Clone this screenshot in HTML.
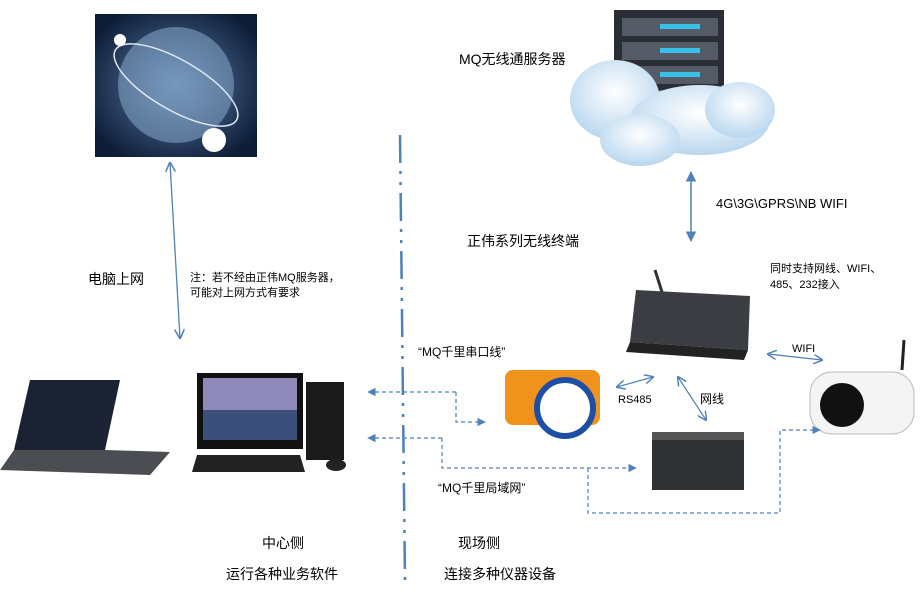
<!DOCTYPE html>
<html><head><meta charset="utf-8"><style>
body{margin:0;background:#fff;width:924px;height:588px;overflow:hidden;font-family:"Liberation Sans","Noto Sans CJK SC",sans-serif}
</style></head><body>
<svg width="924" height="588" viewBox="0 0 924 588" xmlns="http://www.w3.org/2000/svg" font-family="Liberation Sans, Noto Sans CJK SC, sans-serif">
<defs>
<marker id="a" viewBox="0 0 10 10" refX="9" refY="5" markerWidth="7" markerHeight="7" orient="auto-start-reverse"><path d="M0,0 L10,5 L0,10 z" fill="#4f81bd"/></marker>
<marker id="o" viewBox="0 0 10 10" refX="9" refY="5" markerWidth="8" markerHeight="8" orient="auto-start-reverse"><path d="M0,0 L10,5 L0,10" fill="none" stroke="#4f81bd" stroke-width="1.5"/></marker>
<radialGradient id="g1" cx="50%" cy="50%" r="60%"><stop offset="0" stop-color="#5d7fa8"/><stop offset="1" stop-color="#0d1d38"/></radialGradient>
<radialGradient id="cl" cx="50%" cy="40%" r="60%"><stop offset="0" stop-color="#fff"/><stop offset="1" stop-color="#b9d7ef"/></radialGradient>
</defs>
<!-- globe -->
<rect x="95" y="14" width="162" height="143" fill="url(#g1)"/>
<circle cx="176" cy="85" r="58" fill="#8fb2d6" opacity="0.5"/>
<ellipse cx="176" cy="85" rx="70" ry="25" fill="none" stroke="#dfe9f5" stroke-width="1.5" transform="rotate(30 176 85)"/>
<circle cx="214" cy="140" r="12" fill="#fff"/>
<circle cx="120" cy="40" r="6" fill="#fff"/>
<!-- server & cloud -->
<rect x="614" y="10" width="110" height="120" fill="#2a2d33"/>
<g fill="#555b66"><rect x="622" y="18" width="96" height="18"/><rect x="622" y="42" width="96" height="18"/><rect x="622" y="66" width="96" height="18"/><rect x="622" y="90" width="96" height="18"/></g>
<g fill="#39c0ea"><rect x="660" y="24" width="40" height="5"/><rect x="660" y="48" width="40" height="5"/><rect x="660" y="72" width="40" height="5"/><rect x="660" y="96" width="40" height="5"/></g>
<g fill="url(#cl)"><ellipse cx="615" cy="100" rx="45" ry="40"/><ellipse cx="700" cy="120" rx="70" ry="35"/><ellipse cx="740" cy="110" rx="35" ry="28"/><ellipse cx="640" cy="140" rx="40" ry="26"/></g>
<text x="459" y="64" font-size="14" fill="#000">MQ无线通服务器</text>
<line x1="691" y1="172" x2="691" y2="241" stroke="#4f81bd" stroke-width="1.5" marker-start="url(#a)" marker-end="url(#a)"/>
<text x="716" y="208" font-size="13">4G\3G\GPRS\NB  WIFI</text>
<text x="467" y="246" font-size="14">正伟系列无线终端</text>
<!-- DTU -->
<line x1="662" y1="292" x2="655" y2="270" stroke="#333" stroke-width="3"/>
<polygon points="636,290 750,296 748,350 630,342" fill="#3a3d42"/>
<polygon points="630,342 748,350 744,360 626,352" fill="#222"/>
<text x="770" y="272" font-size="11">同时支持网线、WIFI、</text>
<text x="770" y="288" font-size="11">485、232接入</text>
<line x1="768" y1="354" x2="822" y2="360" stroke="#4f81bd" stroke-width="1.2" marker-start="url(#o)" marker-end="url(#o)"/>
<text x="792" y="352" font-size="11">WIFI</text>
<!-- camera -->
<rect x="810" y="372" width="104" height="62" rx="22" fill="#f4f4f4" stroke="#bbb"/>
<circle cx="842" cy="405" r="22" fill="#111"/>
<line x1="902" y1="370" x2="904" y2="340" stroke="#222" stroke-width="3"/>
<!-- meter -->
<rect x="505" y="370" width="95" height="55" rx="8" fill="#f0931c"/>
<circle cx="565" cy="408" r="28" fill="#fff" stroke="#1e4fa4" stroke-width="6"/>
<text x="418" y="356" font-size="12">“MQ千里串口线”</text>
<line x1="617" y1="387" x2="653" y2="377" stroke="#4f81bd" stroke-width="1.2" marker-start="url(#o)" marker-end="url(#o)"/>
<text x="618" y="403" font-size="11">RS485</text>
<line x1="678" y1="377" x2="706" y2="420" stroke="#4f81bd" stroke-width="1.2" marker-start="url(#o)" marker-end="url(#o)"/>
<text x="700" y="403" font-size="12">网线</text>
<!-- PLC -->
<rect x="652" y="432" width="92" height="58" fill="#2f3235"/>
<rect x="652" y="432" width="92" height="8" fill="#555"/>
<!-- dashed -->
<g fill="none" stroke="#4f81bd" stroke-width="1.2" stroke-dasharray="4,3">
<path d="M456,392 H368" marker-end="url(#a)"/><path d="M456,392 V422 H485" marker-end="url(#a)"/>
<path d="M442,438 H368" marker-end="url(#a)"/><path d="M442,438 V468 H636" marker-end="url(#a)"/>
<path d="M588,468 V513 H780 V430 H820" marker-end="url(#a)"/>
</g>
<text x="438" y="492" font-size="12">“MQ千里局域网”</text>
<!-- center line -->
<line x1="400" y1="135" x2="405" y2="582" stroke="#4f81bd" stroke-width="2.5" stroke-dasharray="28,8,3,8,3,8"/>
<!-- left arrow -->
<line x1="170" y1="163" x2="180" y2="338" stroke="#4f81bd" stroke-width="1.3" marker-start="url(#o)" marker-end="url(#o)"/>
<text x="88" y="284" font-size="14">电脑上网</text>
<text x="190" y="281" font-size="11">注：若不经由正伟MQ服务器，</text>
<text x="190" y="296" font-size="11">可能对上网方式有要求</text>
<!-- laptop -->
<polygon points="30,380 120,380 105,450 14,450" fill="#1b2233"/>
<polygon points="14,450 105,450 170,452 150,475 0,470" fill="#4a4d52"/>
<!-- desktop -->
<rect x="197" y="373" width="106" height="76" fill="#111"/>
<rect x="203" y="378" width="94" height="62" fill="#8e89b8"/>
<rect x="203" y="410" width="94" height="30" fill="#3a4f7a"/>
<rect x="306" y="382" width="38" height="78" fill="#1a1a1a"/>
<polygon points="197,455 300,455 305,472 192,472" fill="#222"/>
<ellipse cx="336" cy="465" rx="10" ry="6" fill="#222"/>
<text x="262" y="548" font-size="14">中心侧</text>
<text x="226" y="579" font-size="14">运行各种业务软件</text>
<text x="458" y="548" font-size="14">现场侧</text>
<text x="444" y="579" font-size="14">连接多种仪器设备</text>
</svg>
</body></html>
